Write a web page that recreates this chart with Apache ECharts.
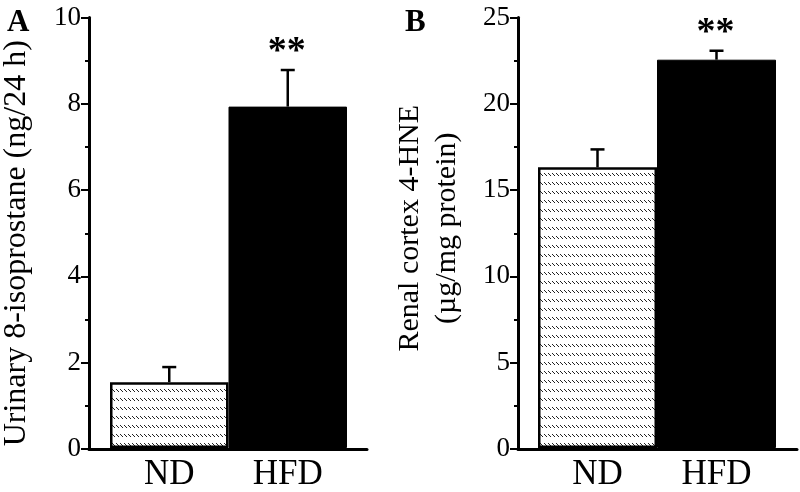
<!DOCTYPE html>
<html>
<head>
<meta charset="utf-8">
<script src="https://cdn.jsdelivr.net/npm/echarts@6/dist/echarts.min.js"></script>
<style>
  html, body { margin: 0; padding: 0; background: #fff; }
  #chart { width: 800px; height: 492px; }
</style>
</head>
<body>
<div id="chart"></div>
<script>
// data
const groups = ['ND', 'HFD'];
const isoMean = [1.53, 7.93];   // urinary 8-isoprostane, ng/24 h
const isoSem = [0.35, 0.85];
const hneMean = [16.3, 22.55];  // renal cortex 4-HNE, ug/mg protein
const hneSem = [1.04, 0.52];
const sigMarks = ['', '**'];

const FONT = '"Liberation Serif", serif';

// hatched fill for the ND bar: rows of short "\" dashes
function makeHatch() {
  const c = document.createElement('canvas');
  c.width = 4;
  c.height = 9;
  const ctx = c.getContext('2d');
  ctx.fillStyle = '#fff';
  ctx.fillRect(0, 0, 4, 9);
  ctx.fillStyle = '#222';
  ctx.fillRect(0, 2, 1, 1);
  ctx.fillRect(1, 3, 1, 1);
  ctx.fillRect(2, 4, 1, 1);
  return c;
}
const hatch = { image: makeHatch(), repeat: 'repeat' };

function errRender(params, api) {
  const i = api.value(0);
  const base = api.coord([i, api.value(1)]);
  const top = api.coord([i, api.value(1) + api.value(2)]);
  const children = [
    { type: 'line', shape: { x1: base[0], y1: base[1], x2: top[0], y2: top[1] }, style: { stroke: '#000', lineWidth: 2.5 } },
    { type: 'line', shape: { x1: top[0] - 7, y1: top[1], x2: top[0] + 7, y2: top[1] }, style: { stroke: '#000', lineWidth: 2.5 } }
  ];
  const mark = sigMarks[params.dataIndex];
  if (mark) {
    children.push({
      type: 'text', x: top[0] - 1, y: top[1] - 18,
      style: { text: mark, font: 'bold 38px ' + FONT, fill: '#000', align: 'center', verticalAlign: 'middle' }
    });
  }
  return { type: 'group', children: children };
}

function outerY(idx, max, step, name, gap, nameSize, nameLine, namePad) {
  return {
    gridIndex: idx, type: 'value', min: 0, max: max, interval: step,
    axisLine: { show: true, lineStyle: { color: '#000', width: 3 } },
    axisTick: { show: true, length: 8, lineStyle: { color: '#000', width: 2 } },
    minorTick: { show: true, splitNumber: 2, length: 4, lineStyle: { color: '#000', width: 2 } },
    splitLine: { show: false },
    axisLabel: { color: '#000', fontSize: 27, fontFamily: FONT, margin: 8 },
    name: name, nameLocation: 'middle', nameGap: gap,
    nameTextStyle: { color: '#000', fontSize: nameSize, fontFamily: FONT, lineHeight: nameLine, padding: namePad }
  };
}
function innerY(idx, max) {
  return { gridIndex: idx, type: 'value', min: 0, max: max, show: false };
}
function outerX(idx) {
  return {
    gridIndex: idx, type: 'value', min: 0, max: 1,
    axisLine: { show: true, onZero: false, lineStyle: { color: '#000', width: 3 } },
    axisTick: { show: false }, axisLabel: { show: false }, splitLine: { show: false }
  };
}
function innerX(idx) {
  return {
    gridIndex: idx, type: 'category', data: groups,
    axisLine: { show: false }, axisTick: { show: false },
    axisLabel: { color: '#000', fontSize: 35, fontFamily: FONT, margin: 9 }
  };
}
function barSeries(xi, yi, values) {
  return {
    type: 'bar', xAxisIndex: xi, yAxisIndex: yi, barCategoryGap: '0%',
    data: values.map((v, i) => ({
      value: v,
      itemStyle: i === 0 ? { color: hatch, borderColor: '#000', borderWidth: 2.5 } : { color: '#000', borderColor: '#000', borderWidth: 1 }
    }))
  };
}
function errSeries(xi, yi, means, sems) {
  return {
    type: 'custom', xAxisIndex: xi, yAxisIndex: yi, z: 5,
    renderItem: errRender,
    data: means.map((m, i) => [i, m, sems[i]])
  };
}

const chart = echarts.init(document.getElementById('chart'));
chart.setOption({
  animation: false,
  title: [
    { text: 'A', left: 2, top: 2, textStyle: { fontSize: 31, fontWeight: 'bold', fontFamily: FONT, color: '#000' } },
    { text: 'B', left: 400, top: 2, textStyle: { fontSize: 31, fontWeight: 'bold', fontFamily: FONT, color: '#000' } }
  ],
  grid: [
    { left: 86, top: 17.5, width: 281, height: 431.5 },
    { left: 110, top: 17.5, width: 237, height: 431.5 },
    { left: 518, top: 17.5, width: 279, height: 431.5 },
    { left: 538, top: 17.5, width: 238, height: 431.5 }
  ],
  xAxis: [outerX(0), innerX(1), outerX(2), innerX(3)],
  yAxis: [
    outerY(0, 10, 2, 'Urinary 8-isoprostane (ng/24 h)', 56, 32, 32, [0, 20, 0, 0]),
    innerY(1, 10),
    outerY(2, 25, 5, 'Renal cortex 4-HNE\n(µg/mg protein)', 52, 30, 37, [0, 0, 0, 10]),
    innerY(3, 25)
  ],
  series: [
    barSeries(1, 1, isoMean),
    errSeries(1, 1, isoMean, isoSem),
    barSeries(3, 3, hneMean),
    errSeries(3, 3, hneMean, hneSem)
  ]
});
</script>
</body>
</html>
